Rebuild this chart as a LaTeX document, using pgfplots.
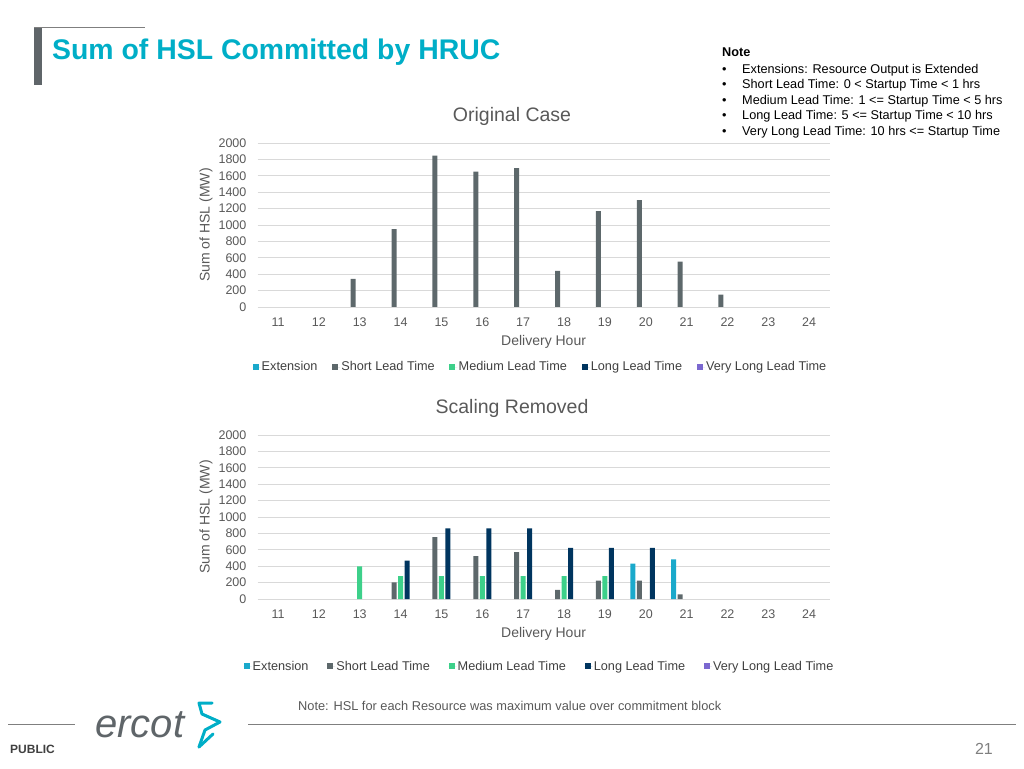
\documentclass[border=0pt]{standalone}
\usepackage{fontspec}
\setmainfont{Liberation Sans}
\usepackage{pgfplots}
\pgfplotsset{compat=1.18}
\definecolor{extc}{HTML}{1AA9CB}
\definecolor{shortc}{HTML}{5D686B}
\definecolor{medc}{HTML}{3DD08A}
\definecolor{longc}{HTML}{00355F}
\definecolor{vlongc}{HTML}{7B68D0}
\definecolor{titlec}{HTML}{00AEC7}
\definecolor{gridc}{HTML}{D9D9D9}
\definecolor{textc}{HTML}{595959}
\definecolor{legc}{HTML}{404040}
\definecolor{barg}{HTML}{5F6569}
\definecolor{footc}{HTML}{7F7F7F}

\pgfplotsset{
  hslaxis/.style={
    scale only axis, width=572pt, height=164pt, anchor=south west,
    xmin=10.5, xmax=24.5, ymin=0, ymax=2000,
    xtick={11,...,24}, ytick={0,200,...,2000},
    ymajorgrids, grid style={gridc, line width=0.8pt},
    axis line style={draw=none}, major tick length=0pt,
    /pgf/number format/assume math mode=true,
    /pgf/number format/1000 sep={},
    tick label style={font=\fontsize{12.5}{14}\selectfont, text=textc},
    yticklabel style={inner sep=0pt, anchor=east, xshift=-11pt},
    xticklabel style={inner sep=0pt, anchor=north, yshift=-10.5pt},
    every axis y label/.style={at={(axis description cs:-0.0902,0.5)}, rotate=90, anchor=center, font=\fontsize{14}{16}\selectfont, text=textc},
    every axis x label/.style={at={(axis description cs:0.5,-0.2134)}, anchor=center, font=\fontsize{14}{16}\selectfont, text=textc},
    ylabel={Sum of HSL (MW)}, xlabel={Delivery Hour},
    title style={at={(axis description cs:0.4448,1.128)}, anchor=center, font=\fontsize{19.5}{22}\selectfont, text=textc},
    legend columns=5,
    legend image code/.code={\fill[##1] (0pt,-2.6pt) rectangle (6pt,3.4pt); \path (0pt,0pt) -- (8pt,0pt);},
    legend style={draw=none, fill=none, font=\fontsize{12.7}{14}\selectfont, text=legc, anchor=center,
      nodes={inner sep=1.2pt}},
  },
  bstyle/.style={ybar, bar width=5pt, draw=none, fill=#1},
}

\begin{document}
\begin{tikzpicture}[x=1pt,y=1pt]
\path[use as bounding box] (0,0) rectangle (1024,768);

% header
\fill[barg] (34,683) rectangle (42,741);
\draw[footc, line width=0.8pt] (34,741) -- (145,741);
\node[anchor=base west, inner sep=0pt, text=titlec, font=\fontsize{28.4}{30}\selectfont\bfseries] at (52,708) {Sum of HSL Committed by HRUC};

% note block
\begin{scope}[every node/.style={anchor=base west, inner sep=0pt, font=\fontsize{12.7}{14}\selectfont}]
\node[font=\fontsize{12.7}{14}\selectfont\bfseries] at (722,711) {Note};
\node at (722,694.5) {\textbullet}; \node at (742,694.5) {Extensions: Resource Output is Extended};
\node at (722,679) {\textbullet}; \node at (742,679) {Short Lead Time: 0 < Startup Time < 1 hrs};
\node at (722,663.5) {\textbullet}; \node at (742,663.5) {Medium Lead Time: 1 <= Startup Time < 5 hrs};
\node at (722,648) {\textbullet}; \node at (742,648) {Long Lead Time: 5 <= Startup Time < 10 hrs};
\node at (722,632.5) {\textbullet}; \node at (742,632.5) {Very Long Lead Time: 10 hrs <= Startup Time};
\end{scope}

% chart 1
\begin{axis}[hslaxis, at={(257.6pt,461pt)}, title={Original Case},
  legend style={at={(axis description cs:0.4937,-0.366)},
    /tikz/every even column/.append style={column sep=13.5pt}}]
\addlegendimage{fill=extc, draw=none}
\addlegendentry{Extension}
\addplot[bstyle=shortc, bar shift=-6.5pt] coordinates {
 (13,342) (14,949) (15,1845) (16,1650) (17,1694) (18,440) (19,1169) (20,1303) (21,554) (22,151)};
\addlegendentry{Short Lead Time}
\addlegendimage{fill=medc, draw=none}
\addlegendentry{Medium Lead Time}
\addlegendimage{fill=longc, draw=none}
\addlegendentry{Long Lead Time}
\addlegendimage{fill=vlongc, draw=none}
\addlegendentry{Very Long Lead Time}
\end{axis}

% chart 2
\begin{axis}[hslaxis, at={(257.6pt,169pt)}, title={Scaling Removed},
  legend style={at={(axis description cs:0.492,-0.414)},
    /tikz/every even column/.append style={column sep=17.5pt}}]
\addplot[bstyle=extc, bar shift=-13pt] coordinates {(20,431) (21,484)};
\addlegendentry{Extension}
\addplot[bstyle=shortc, bar shift=-6.5pt] coordinates {
 (14,203) (15,756) (16,524) (17,573) (18,110) (19,224) (20,224) (21,57)};
\addlegendentry{Short Lead Time}
\addplot[bstyle=medc, bar shift=0pt] coordinates {
 (13,398) (14,280) (15,280) (16,280) (17,280) (18,280) (19,280)};
\addlegendentry{Medium Lead Time}
\addplot[bstyle=longc, bar shift=6.5pt] coordinates {
 (14,467) (15,862) (16,862) (17,862) (18,622) (19,622) (20,622)};
\addlegendentry{Long Lead Time}
\addlegendimage{fill=vlongc, draw=none}
\addlegendentry{Very Long Lead Time}
\end{axis}

% footer
\node[anchor=base west, inner sep=0pt, text=textc, font=\fontsize{12.8}{14}\selectfont] at (298,58) {Note: HSL for each Resource was maximum value over commitment block};
\draw[footc, line width=0.9pt] (8,44) -- (75,44);
\draw[footc, line width=0.9pt] (248,44) -- (1016,44);
\node[anchor=base west, inner sep=0pt, text=legc, font=\fontsize{12}{14}\selectfont\bfseries] at (10,15) {PUBLIC};
\node[anchor=base east, inner sep=0pt, text=footc, font=\fontsize{16}{18}\selectfont] at (993,14) {21};
\node[anchor=base west, inner sep=0pt, text=barg, font=\fontsize{40}{40}\selectfont\itshape] at (95,31) {ercot};
\draw[titlec, line width=3pt, line join=round, line cap=round]
  (212,65) -- (199,65) -- (202,54) -- (220,46) -- (205,38) -- (199,21);
\draw[titlec, line width=3pt, line join=round, line cap=round]
  (199,21) -- (213,34);
\end{tikzpicture}
\end{document}
